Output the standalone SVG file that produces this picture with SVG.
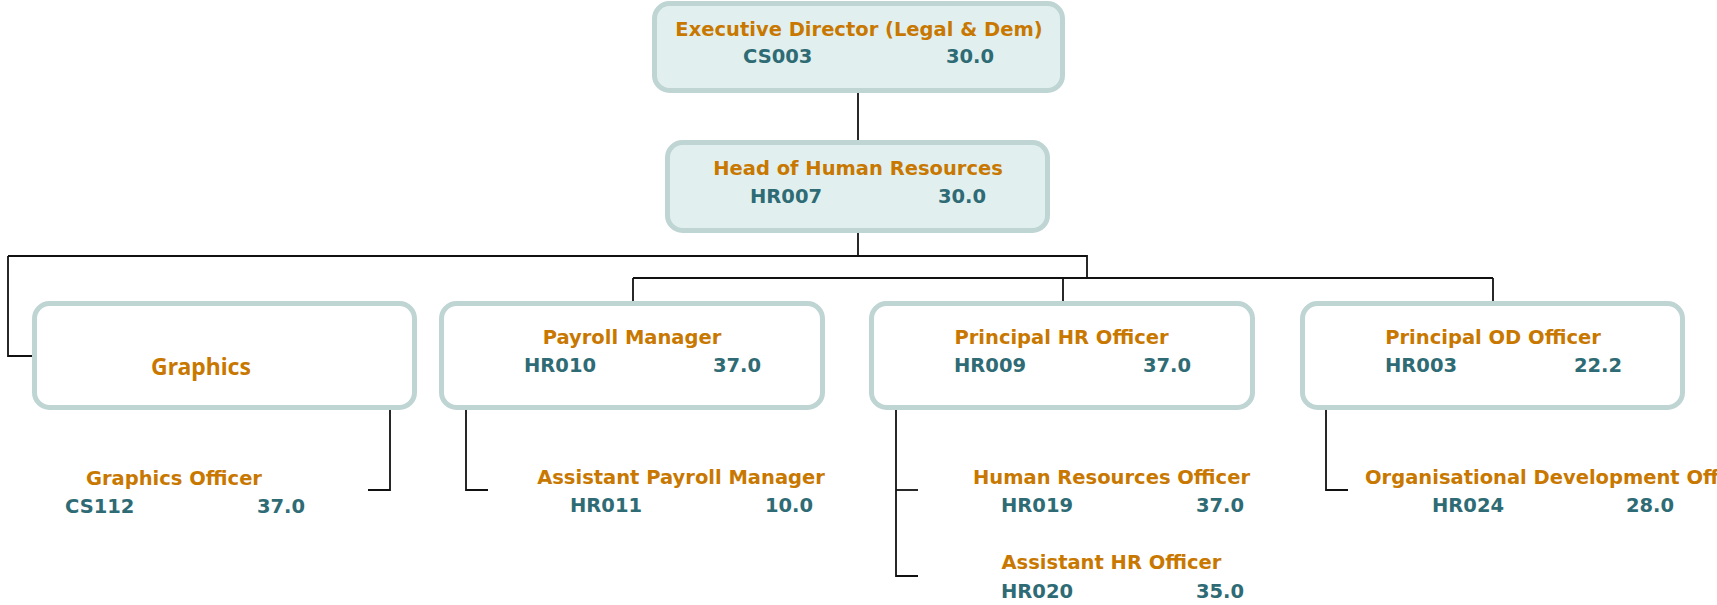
<svg xmlns="http://www.w3.org/2000/svg" width="1717" height="605" viewBox="0 0 1717 605">
<style>
.box{fill:#ffffff;stroke:#BFD5D3;stroke-width:5}
.hi{fill:#E1F0EF}
.t{font-family:"DejaVu Sans",Verdana,sans-serif;font-weight:bold;font-size:19.5px;fill:#C87800}
.c{font-family:"DejaVu Sans",Verdana,sans-serif;font-weight:bold;font-size:19.5px;fill:#2E6B74}
.g{font-family:"Noto Sans","Liberation Sans",sans-serif;font-weight:bold;font-size:23px;fill:#C87800}
.m{text-anchor:middle}
.e{text-anchor:end}
.conn path{fill:none;stroke:#111;stroke-width:1.8}
</style>
<rect width="1717" height="605" fill="#ffffff"/>
<g class="conn" id="connectors">
<path d="M858 92 V142"/>
<path d="M858 232 V256"/>
<path d="M8 256 H1087 V278"/>
<path d="M8 256 V356 H32"/>
<path d="M633 278 H1493"/>
<path d="M633 278 V301"/>
<path d="M1063 278 V301"/>
<path d="M1493 278 V301"/>
<path d="M390 410 V490 H368"/>
<path d="M466 410 V490 H488"/>
<path d="M896 410 V576 H918"/>
<path d="M896 490 H918"/>
<path d="M1326 410 V490 H1348"/>
</g>
<g id="exec">
<rect class="box hi" x="654.5" y="3.5" width="408" height="87" rx="15"/>
<text class="t m" x="859" y="36">Executive Director (Legal &amp; Dem)</text>
<text class="c" x="743" y="63">CS003</text>
<text class="c e" x="994" y="63">30.0</text>
</g>
<g id="head">
<rect class="box hi" x="667.5" y="142.5" width="380" height="88" rx="15"/>
<text class="t m" x="858" y="175">Head of Human Resources</text>
<text class="c" x="750" y="203">HR007</text>
<text class="c e" x="986" y="203">30.0</text>
</g>
<g id="graphics">
<rect class="box" x="34.5" y="303.5" width="380" height="104" rx="15"/>
<text class="g m" x="201" y="375">Graphics</text>
</g>
<g id="payroll">
<rect class="box" x="441.5" y="303.5" width="381" height="104" rx="15"/>
<text class="t m" x="632" y="344">Payroll Manager</text>
<text class="c" x="524" y="372">HR010</text>
<text class="c e" x="761" y="372">37.0</text>
</g>
<g id="principal-hr">
<rect class="box" x="871.5" y="303.5" width="381" height="104" rx="15"/>
<text class="t m" x="1061.5" y="344">Principal HR Officer</text>
<text class="c" x="954" y="372">HR009</text>
<text class="c e" x="1191" y="372">37.0</text>
</g>
<g id="principal-od">
<rect class="box" x="1302.5" y="303.5" width="380" height="104" rx="15"/>
<text class="t m" x="1493" y="344">Principal OD Officer</text>
<text class="c" x="1385" y="372">HR003</text>
<text class="c e" x="1622" y="372">22.2</text>
</g>
<g id="graphics-officer">
<text class="t m" x="174" y="485">Graphics Officer</text>
<text class="c" x="65" y="513">CS112</text>
<text class="c e" x="305" y="513">37.0</text>
</g>
<g id="assistant-payroll">
<text class="t m" x="681" y="484">Assistant Payroll Manager</text>
<text class="c" x="570" y="512">HR011</text>
<text class="c e" x="813" y="512">10.0</text>
</g>
<g id="hr-officer">
<text class="t m" x="1111.5" y="484">Human Resources Officer</text>
<text class="c" x="1001" y="512">HR019</text>
<text class="c e" x="1244" y="512">37.0</text>
</g>
<g id="assistant-hr">
<text class="t m" x="1111.5" y="569">Assistant HR Officer</text>
<text class="c" x="1001" y="598">HR020</text>
<text class="c e" x="1244" y="598">35.0</text>
</g>
<g id="od-officer">
<text class="t" x="1365" y="484">Organisational Development Officer</text>
<text class="c" x="1432" y="512">HR024</text>
<text class="c e" x="1674" y="512">28.0</text>
</g>
</svg>
